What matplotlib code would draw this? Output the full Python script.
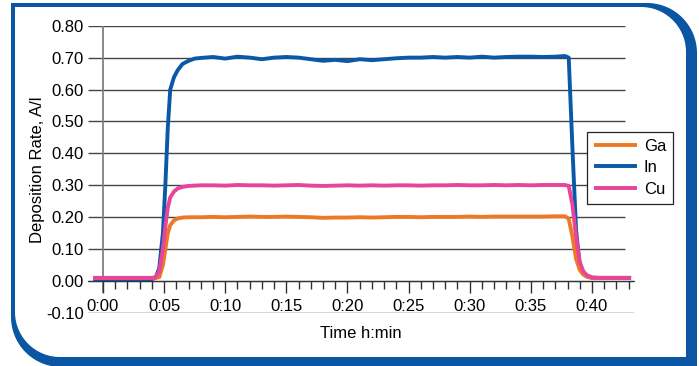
import numpy as np
import matplotlib
matplotlib.use("Agg")
import matplotlib.pyplot as plt
from matplotlib.patches import Polygon

plt.rcParams['font.family'] = ['Liberation Sans', 'DejaVu Sans']

# time in minutes
t_min = [-0.8, 0, 1, 2, 3, 4,
         4.3, 4.6, 4.9, 5.1, 5.3, 5.5, 5.8, 6.1, 6.5, 7.0, 7.5, 8,
         9, 10, 11, 12, 13, 14, 15, 16, 17, 18, 19, 20, 21, 22, 23,
         24, 25, 26, 27, 28, 29, 30, 31, 32, 33, 34, 35, 36, 37,
         37.8, 38.1, 38.4, 38.7, 39.0, 39.3, 39.6, 40.0, 40.5, 41, 42, 43.2]

rate_in = [0.005, 0.005, 0.005, 0.005, 0.005, 0.006,
           0.010, 0.040, 0.150, 0.300, 0.480, 0.600, 0.638, 0.660, 0.680, 0.690, 0.697, 0.699,
           0.702, 0.697, 0.703, 0.700, 0.695, 0.700, 0.702, 0.700, 0.695, 0.690, 0.693,
           0.689, 0.695, 0.692, 0.695, 0.698, 0.700, 0.700, 0.702, 0.700, 0.702, 0.700,
           0.703, 0.700, 0.702, 0.703, 0.703, 0.702, 0.703,
           0.705, 0.700, 0.420, 0.160, 0.050, 0.025, 0.015, 0.010, 0.010, 0.010, 0.010, 0.010]

rate_cu = [0.010, 0.010, 0.010, 0.010, 0.010, 0.010,
           0.012, 0.030, 0.100, 0.170, 0.230, 0.262, 0.280, 0.290, 0.295, 0.298, 0.299, 0.300,
           0.300, 0.299, 0.301, 0.300, 0.300, 0.299, 0.300, 0.301, 0.299, 0.298, 0.299,
           0.300, 0.299, 0.300, 0.299, 0.300, 0.300, 0.299, 0.300, 0.300, 0.301, 0.300,
           0.300, 0.301, 0.300, 0.301, 0.300, 0.301, 0.301,
           0.301, 0.298, 0.240, 0.140, 0.060, 0.030, 0.018, 0.012, 0.010, 0.010, 0.010, 0.010]

rate_ga = [0.010, 0.010, 0.010, 0.010, 0.010, 0.010,
           0.010, 0.012, 0.050, 0.100, 0.150, 0.175, 0.190, 0.196, 0.199, 0.200, 0.200, 0.200,
           0.201, 0.200, 0.201, 0.202, 0.201, 0.201, 0.202, 0.201, 0.200, 0.198, 0.199,
           0.199, 0.200, 0.199, 0.200, 0.201, 0.201, 0.200, 0.201, 0.201, 0.201, 0.202,
           0.201, 0.202, 0.202, 0.202, 0.202, 0.202, 0.203,
           0.203, 0.195, 0.140, 0.070, 0.035, 0.020, 0.013, 0.010, 0.010, 0.010, 0.010, 0.010]

y_ticks = [-0.10, 0.00, 0.10, 0.20, 0.30, 0.40, 0.50, 0.60, 0.70, 0.80]
x_major = [0, 5, 10, 15, 20, 25, 30, 35, 40]
x_labels = ['0:00', '0:05', '0:10', '0:15', '0:20', '0:25', '0:30', '0:35', '0:40']

c_ga = '#EC7A24'
c_in = '#0A58A8'
c_cu = '#E8449C'
c_frame = '#0A56A2'

W, H = 699, 366
fig = plt.figure(figsize=(W / 100, H / 100), dpi=100)


def frame(x0, y0, x1, y1, r, color):
    # rounded top-right and bottom-left corners, pixel coords (y down)
    a = np.linspace(0, np.pi / 2, 24)
    pts = [(x0, y0)]
    pts += [(x1 - r + r * np.sin(s), y0 + r - r * np.cos(s)) for s in a]
    pts += [(x1, y1)]
    pts += [(x0 + r - r * np.sin(s), y1 - r + r * np.cos(s)) for s in a]
    return Polygon(pts, closed=True, facecolor=color, edgecolor='none')


bg = fig.add_axes([0, 0, 1, 1])
bg.set_xlim(0, W)
bg.set_ylim(H, 0)
bg.axis('off')
bg.set_zorder(-1)
bg.add_patch(frame(11, 3, 697, 367, 50, c_frame))
bg.add_patch(frame(15, 7, 686, 357, 45, 'white'))

# axes: x -1.227..43.44 -> px 88..634, y -0.10..0.80 -> px 313..25.7
ax = fig.add_axes([88 / W, (H - 313) / H, (634 - 88) / W, (313 - 25.7) / H])
ax.patch.set_alpha(0)
x0, x1 = -1.227, 43.44
ax.set_xlim(x0, x1)
ax.set_ylim(-0.10, 0.80)

for yv in y_ticks:
    if yv in (0.0, -0.10):
        ax.hlines(yv, x0, x1, color='#333333', lw=1.0, zorder=1)
    else:
        ax.hlines(yv, x0, 42.7, color='#444444', lw=1.0, zorder=1)
ax.vlines(0, -0.038, 0.80, color='#808080', lw=1.3, zorder=1)

ax.plot(t_min, rate_ga, color=c_ga, lw=2.8, label='Ga', zorder=3, solid_capstyle='butt')
ax.plot(t_min, rate_in, color=c_in, lw=2.8, label='In', zorder=2, solid_capstyle='butt')
ax.plot(t_min, rate_cu, color=c_cu, lw=2.8, label='Cu', zorder=4, solid_capstyle='butt')

for side in ['top', 'right', 'left']:
    ax.spines[side].set_visible(False)
ax.spines['bottom'].set_position(('data', 0))
ax.spines['bottom'].set_color('#333333')
ax.spines['bottom'].set_bounds(x0, x1)

ax.set_xticks(x_major)
ax.set_xticklabels(x_labels)
ax.set_xticks(range(0, 44), minor=True)
ax.tick_params(axis='x', which='major', direction='out', length=8.6, width=1.0,
               color='#333333', labelsize=12, pad=4)
ax.tick_params(axis='x', which='minor', direction='out', length=5.8, width=1.0,
               color='#333333')

ax.set_yticks(y_ticks)
ax.set_yticklabels(['%.2f' % v for v in y_ticks])
ax.tick_params(axis='y', length=0, labelsize=12, pad=3)

ax.set_xlabel('Time h:min', fontsize=12, labelpad=9)
ax.set_ylabel('Deposition Rate, A/l', fontsize=12, labelpad=1)

leg = ax.legend(loc='upper left', bbox_to_anchor=(587 / W, (H - 132) / H),
                bbox_transform=fig.transFigure, fancybox=False, framealpha=1,
                edgecolor='#222222', fontsize=12, handlelength=2.6,
                borderaxespad=0, borderpad=0.4, labelspacing=0.4, handletextpad=0.4)
leg.get_frame().set_linewidth(0.9)

fig.savefig('out.png', dpi=100)
